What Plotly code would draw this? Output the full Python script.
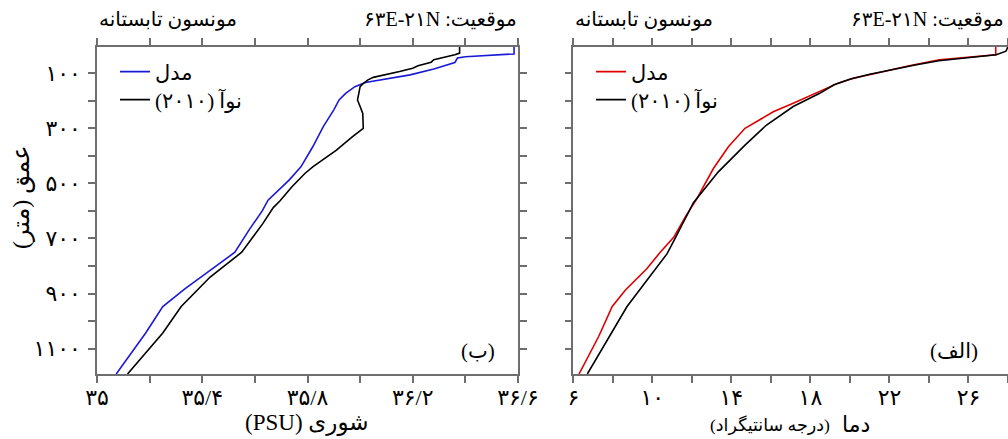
import plotly.graph_objects as go

# ---------------- data ----------------
# Salinity (PSU) vs depth (m)
sal_model_s = [36.585, 36.585, 36.40, 36.37, 36.36, 36.28, 36.19, 36.07, 36.02, 35.98, 35.945, 35.92,
               35.90, 35.86, 35.82, 35.775, 35.73, 35.65, 35.628, 35.58, 35.524, 35.43, 35.335,
               35.25, 35.185, 35.073]
sal_model_d = [3, 30, 40, 45, 61, 85, 106, 124, 134, 149, 173, 197,
               233, 294, 367, 440, 488, 561, 600, 666, 750, 816, 882,
               947, 1043, 1192]

sal_noaa_s = [36.378, 36.378, 36.36, 36.30, 36.28, 36.27, 36.22, 36.20, 36.15, 36.05, 36.03, 36.01,
              36.00, 35.995, 35.99, 36.00, 36.01, 36.012, 35.97, 35.91, 35.82, 35.79, 35.74,
              35.695, 35.67, 35.63, 35.61, 35.55, 35.43, 35.32, 35.25, 35.116]
sal_noaa_d = [3, 27, 33, 45, 51, 60, 73, 82, 94, 115, 124, 139,
              149, 173, 197, 221, 246, 300, 331, 379, 440, 464, 513,
              564, 588, 646, 672, 750, 840, 947, 1043, 1192]

# Temperature (deg C) vs depth (m)
tmp_model_t = [27.38, 27.38, 24.52, 23.0, 21.33, 20.15, 19.4, 18.47, 17.13, 16.12, 14.69, 13.85,
               13.09, 12.25, 11.7, 11.08, 10.40, 9.73, 8.64, 7.97, 7.29, 6.29]
tmp_model_d = [3, 33, 51, 73, 100, 118, 136, 167, 209, 240, 300, 367,
               446, 556, 618, 696, 750, 809, 887, 947, 1055, 1192]

tmp_noaa_t = [28.0, 27.9, 27.4, 24.5, 23.3, 22.5, 21.0, 20.0, 19.2, 18.47, 17.13, 15.78,
              14.69, 13.34, 12.08, 11.1, 10.74, 8.72, 6.71]
tmp_noaa_d = [3, 20, 33, 55, 70, 82, 104, 122, 142, 173, 221, 288,
              361, 458, 570, 707, 756, 947, 1192]

# tick labels
depth_ticks = [100, 200, 300, 400, 500, 600, 700, 800, 900, 1000, 1100]
depth_labels = ["۱۰۰", "", "۳۰۰", "", "۵۰۰", "", "۷۰۰", "", "۹۰۰", "", "۱۱۰۰"]
sal_ticks = [35.0, 35.2, 35.4, 35.6, 35.8, 36.0, 36.2, 36.4, 36.6]
sal_labels = ["۳۵", "", "۳۵/۴", "", "۳۵/۸", "", "۳۶/۲", "", "۳۶/۶"]
tmp_ticks = [6, 8, 10, 12, 14, 16, 18, 20, 22, 24, 26, 28]
tmp_labels = ["۶", "", "۱۰", "", "۱۴", "", "۱۸", "", "۲۲", "", "۲۶", ""]

RLE, PDF = "\u202B", "\u202C"
name_model = "مدل"
name_noaa = RLE + "نوآ (۲۰۱۰)" + PDF
title_season = "مونسون تابستانه"
title_loc = RLE + "موقعیت: ۶۳E-۲۱N" + PDF

# ---------------- layout helpers ----------------
W, H = 1008, 439
def px(x):
    return x / W
def py(y):
    return 1 - y / H

FONT = "Liberation Serif, DejaVu Sans, sans-serif"
AX = "#6e6e6e"

fig = go.Figure()
fig.add_trace(go.Scatter(x=sal_model_s, y=sal_model_d, mode="lines", name=name_model,
                         line=dict(color="#1a1ad6", width=1.6), xaxis="x", yaxis="y", legend="legend"))
fig.add_trace(go.Scatter(x=sal_noaa_s, y=sal_noaa_d, mode="lines", name=name_noaa,
                         line=dict(color="black", width=1.6), xaxis="x", yaxis="y", legend="legend3"))
fig.add_trace(go.Scatter(x=tmp_model_t, y=tmp_model_d, mode="lines", name=name_model,
                         line=dict(color="#e00000", width=1.6), xaxis="x2", yaxis="y2", legend="legend2"))
fig.add_trace(go.Scatter(x=tmp_noaa_t, y=tmp_noaa_d, mode="lines", name=name_noaa,
                         line=dict(color="black", width=1.6), xaxis="x2", yaxis="y2", legend="legend4"))

common = dict(showline=True, linecolor=AX, linewidth=1.5, mirror="allticks", ticks="outside",
              ticklen=7, tickcolor=AX, tickwidth=1.5, showgrid=False, zeroline=False,
              tickfont=dict(family=FONT, size=22, color="black"), tickmode="array",
              automargin=False)

def leg(x, y):
    return dict(x=px(x), y=py(y), xanchor="left", yanchor="middle", bgcolor="rgba(0,0,0,0)",
                font=dict(family=FONT, size=21, color="black"), itemwidth=30, tracegroupgap=0)

ydom = [py(374), py(46.5)]
fig.update_layout(
    width=W, height=H, margin=dict(l=0, r=0, t=0, b=0, autoexpand=False),
    paper_bgcolor="white", plot_bgcolor="white",
    xaxis=dict(domain=[px(97), px(518)], range=[35, 36.6], tickvals=sal_ticks, ticktext=sal_labels,
               anchor="y", ticklabelstandoff=-4, **common),
    yaxis=dict(domain=ydom, range=[1192, 3], tickvals=depth_ticks, ticktext=depth_labels,
               anchor="x", ticklabelstandoff=3, **common),
    xaxis2=dict(domain=[px(573.3), 1.0], range=[6, 28], tickvals=tmp_ticks, ticktext=tmp_labels,
                anchor="y2", ticklabelstandoff=-4, **common),
    yaxis2=dict(domain=ydom, range=[1192, 3], tickvals=depth_ticks, ticktext=[""] * len(depth_ticks),
                anchor="x2", **common),
    legend=leg(115, 72),
    legend3=leg(115, 100),
    legend2=leg(591, 72),
    legend4=leg(591, 100),
    showlegend=True,
)

def ann(text, x, y, xanchor="center", size=20, textangle=0):
    fig.add_annotation(text=text, x=px(x), y=py(y), xref="paper", yref="paper", xanchor=xanchor,
                       yanchor="middle", showarrow=False, textangle=textangle,
                       font=dict(family=FONT, size=size, color="black"))

# top titles
ann(title_season, 97, 20, "left")
ann(title_loc, 519, 20, "right")
ann(title_season, 573, 20, "left")
ann(title_loc, 1006, 20, "right")
# panel labels
ann(RLE + "(ب)" + PDF, 497, 351, "right", size=21)
ann(RLE + "(الف)" + PDF, 980, 351, "right", size=21)
# axis titles
ann(RLE + "شوری (PSU)" + PDF, 307, 423, "center", size=23)
ann("دما", 872, 424, "right", size=22)
ann(RLE + "(درجه سانتیگراد)" + PDF, 832, 425, "right", size=17.5)
ann(RLE + "عمق (متر)" + PDF, 21, 197, "center", size=24, textangle=-90)

fig.write_html("out.html", config={"displayModeBar": False},
               post_script="document.body.style.margin='0px';document.body.style.overflow='hidden';")
